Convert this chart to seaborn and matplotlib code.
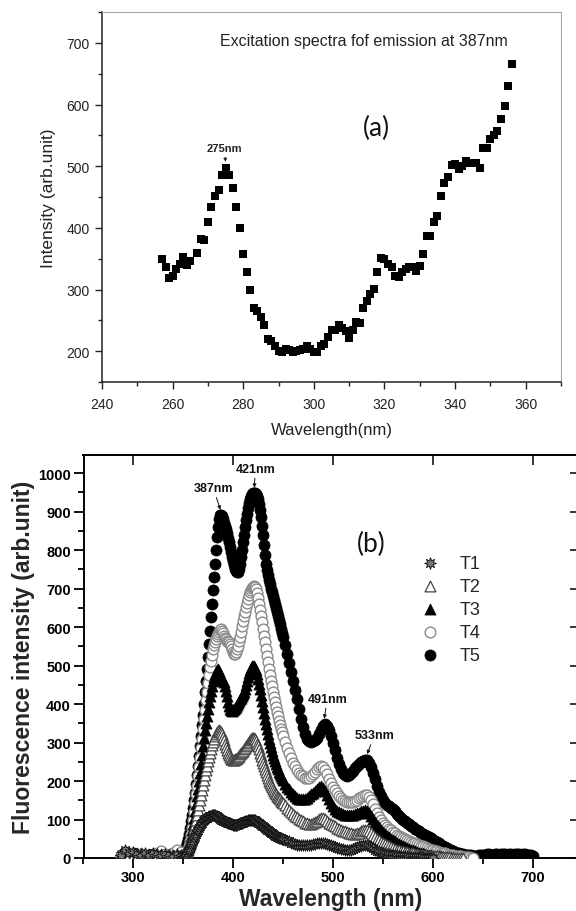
import numpy as np
import pandas as pd
import matplotlib
matplotlib.use("Agg")
import matplotlib.pyplot as plt
import seaborn as sns
from matplotlib.ticker import MultipleLocator

sns.set_theme(style="white")
plt.rcParams['font.family'] = ['Liberation Sans', 'DejaVu Sans']

# ---------------- panel (a): excitation spectrum ----------------
exc_wavelength = [257, 258, 259, 260, 261, 262, 263, 264, 265] + list(range(267, 357))
exc_intensity = [349, 336, 318, 322, 333, 341, 353, 339, 346,
                 359, 382, 381, 410, 433, 452, 462, 485, 497, 485,
                 464, 434, 400, 357, 329, 299, 270, 265, 256, 242,
                 220, 216, 208, 200, 198, 203, 202, 198, 201, 202,
                 203, 209, 204, 198, 198, 208, 212, 223, 235, 235,
                 243, 238, 233, 222, 235, 247, 245, 270, 282, 292,
                 301, 329, 351, 349, 341, 336, 322, 320, 329, 334,
                 336, 336, 330, 338, 357, 387, 387, 409, 420, 452,
                 472, 482, 502, 504, 496, 501, 508, 505, 505, 505,
                 497, 530, 529, 544, 550, 557, 577, 598, 630, 666]

# ---------------- panel (b): emission spectra ----------------
# wavelength grid: 288-348 every 4 nm, 350-449 every 1 nm, from 450 every 2 nm
grid_base = list(range(288, 350, 4))
grid_mid = list(range(350, 450))
grid_tail = list(range(450, 702, 2))

t5_base = [8, 15, 10, 12, 8, 10, 6, 9, 11, 8, 10, 7, 9, 12, 10, 8]
t5_mid = [5, 10, 18, 28, 38, 50, 62, 78, 95, 112,
          130, 150, 170, 192, 215, 240, 265, 290, 318, 345,
          372, 400, 430, 460, 490, 522, 555, 590, 625, 660,
          695, 730, 765, 800, 835, 860, 880, 890, 892, 888,
          880, 870, 862, 855, 845, 832, 820, 808, 795, 782,
          772, 762, 752, 745, 742, 744, 752, 765, 782, 800,
          820, 840, 860, 878, 895, 910, 922, 932, 940, 945,
          948, 948, 947, 945, 940, 932, 920, 905, 885, 862,
          838, 812, 788, 765, 748, 735, 722, 712, 700, 690,
          680, 670, 660, 650, 640, 628, 618, 607, 596, 585]
t5_tail = [575, 553, 530, 507, 484, 460, 436, 412, 388, 362,
           340, 322, 310, 304, 302, 303, 307, 313, 322, 333,
           343, 347, 343, 333, 318, 300, 280, 260, 243, 230,
           220, 215, 213, 215, 220, 226, 233, 240, 245, 250,
           253, 255, 254, 248, 237, 222, 205, 188, 172, 160,
           150, 143, 138, 135, 131, 127, 122, 115, 110, 105,
           100, 96, 92, 88, 84, 80, 76, 73, 70, 66,
           62, 60, 58, 55, 52, 48, 45, 42, 38, 34,
           31, 28, 25, 22, 20, 18, 16, 14, 12, 11,
           10, 9, 8, 8, 7, 6, 6, 6, 7, 8,
           8, 9, 10, 10, 9, 9, 10, 10, 9, 10,
           11, 10, 9, 10, 10, 9, 10, 11, 10, 9,
           10, 10, 9, 8, 8, 6]

t4_base = [5, 8, 12, 9, 6, 10, 8, 5, 9, 14, 18, 10, 8, 12, 20, 15]
t4_mid = [8, 6, 5, 8, 14, 22, 32, 45, 60, 78,
          98, 120, 142, 165, 188, 212, 236, 260, 285, 310,
          335, 360, 385, 410, 432, 455, 475, 495, 512, 528,
          542, 553, 562, 570, 577, 583, 588, 592, 594, 590,
          584, 578, 572, 568, 565, 562, 560, 556, 550, 543,
          536, 531, 530, 534, 542, 552, 563, 575, 588, 602,
          615, 628, 640, 652, 663, 673, 682, 690, 697, 702,
          705, 706, 704, 698, 688, 675, 660, 645, 628, 612,
          595, 578, 560, 542, 525, 508, 492, 476, 460, 446,
          432, 418, 405, 392, 380, 368, 357, 346, 336, 327]
t4_tail = [318, 302, 287, 273, 260, 248, 238, 229, 222, 216,
           212, 209, 208, 209, 212, 217, 223, 230, 236, 238,
           236, 228, 218, 206, 195, 185, 176, 168, 161, 155,
           151, 148, 146, 145, 145, 146, 148, 151, 155, 159,
           162, 164, 163, 158, 150, 140, 128, 117, 107, 98,
           91, 85, 80, 76, 72, 68, 65, 61, 58, 55,
           52, 49, 47, 45, 42, 40, 38, 36, 34, 32,
           30, 28, 26, 24, 22, 20, 18, 17, 15, 14,
           13, 12, 10, 9, 8, 7, 6, 5, 4, 4,
           3, 3, 2, 2, 1, 1]

t3_base = [10, 12, 8, 10, 12, 8, 6, 10, 8, 6, 10, 8, 6, 9, 7, 6]
t3_mid = [3, 5, 8, 12, 18, 25, 34, 45, 58, 72,
          88, 105, 122, 140, 160, 180, 200, 222, 245, 268,
          290, 312, 333, 352, 370, 388, 405, 420, 435, 448,
          460, 470, 478, 484, 488, 490, 486, 478, 470, 465,
          462, 458, 448, 435, 420, 405, 395, 388, 384, 383,
          384, 386, 389, 393, 398, 403, 408, 412, 416, 420,
          425, 432, 440, 450, 460, 470, 480, 488, 494, 498,
          500, 498, 494, 488, 478, 466, 452, 438, 423, 408,
          392, 377, 362, 348, 335, 322, 310, 298, 288, 278,
          268, 260, 252, 244, 237, 230, 224, 218, 212, 207]
t3_tail = [202, 193, 185, 178, 172, 166, 161, 157, 154, 152,
           152, 153, 156, 160, 165, 170, 175, 180, 184, 186,
           183, 175, 164, 153, 143, 135, 128, 123, 119, 116,
           114, 113, 112, 112, 112, 113, 114, 116, 118, 121,
           123, 124, 122, 117, 110, 102, 94, 87, 80, 74,
           68, 63, 58, 54, 50, 46, 43, 40, 37, 34,
           31, 28, 26, 24, 22, 20, 18, 16, 14, 13,
           12, 10, 9, 8, 7, 6, 5, 5, 4, 4,
           3, 3, 2, 2, 2, 1]

t2_base = [6, 10, 8, 5, 8, 12, 9, 6, 8, 10, 7, 5, 9, 6, 8, 5]
t2_mid = [2, 4, 7, 11, 16, 22, 29, 37, 46, 56,
          66, 77, 88, 100, 112, 124, 137, 150, 163, 176,
          189, 202, 215, 228, 240, 252, 263, 274, 284, 293,
          302, 310, 317, 323, 328, 331, 332, 331, 328, 322,
          315, 306, 297, 288, 280, 273, 267, 262, 258, 256,
          255, 255, 256, 258, 260, 263, 266, 269, 272, 275,
          278, 282, 286, 290, 294, 298, 302, 306, 309, 311,
          312, 311, 308, 303, 297, 290, 282, 273, 264, 255,
          246, 238, 230, 223, 216, 208, 201, 195, 189, 184,
          179, 174, 170, 166, 162, 158, 155, 152, 149, 146]
t2_tail = [143, 137, 131, 125, 120, 115, 110, 106, 102, 98,
           95, 92, 90, 89, 89, 90, 93, 97, 101, 104,
           105, 102, 97, 92, 88, 85, 82, 79, 76, 73,
           71, 69, 67, 65, 64, 63, 63, 64, 66, 69,
           72, 74, 73, 70, 65, 60, 55, 50, 46, 42,
           39, 36, 33, 30, 28, 26, 24, 22, 20, 19,
           17, 16, 15, 14, 13, 12, 11, 10, 9, 8,
           8, 7, 6, 6, 5, 5, 4, 4, 3, 3,
           3, 2, 2, 2, 1, 1, 1, 1, 0, 0,
           0]

t1_base = [8, 20, 12, 15, 10, 8, 14, 9, 12, 10, 7, 11, 9, 6, 10, 8]
t1_mid = [3, 4, 6, 9, 13, 17, 22, 27, 33, 39,
          45, 51, 57, 63, 69, 74, 79, 84, 88, 92,
          95, 98, 101, 103, 105, 107, 108, 109, 110, 111,
          112, 112, 111, 110, 108, 106, 104, 102, 100, 98,
          97, 96, 95, 94, 93, 92, 91, 90, 89, 88,
          87, 86, 86, 86, 87, 88, 89, 90, 91, 92,
          93, 94, 95, 96, 97, 98, 99, 100, 100, 100,
          100, 99, 98, 96, 94, 92, 90, 88, 86, 84,
          82, 80, 78, 76, 74, 72, 70, 68, 66, 64,
          62, 60, 58, 56, 55, 54, 53, 52, 51, 50]
t1_tail = [49, 47, 45, 43, 40, 38, 36, 35, 34, 34,
           33, 33, 33, 34, 35, 36, 37, 38, 39, 40,
           40, 39, 37, 35, 33, 31, 29, 27, 25, 24,
           23, 22, 21, 21, 22, 24, 26, 28, 30, 32,
           33, 34, 33, 31, 28, 25, 22, 19, 17, 15,
           13, 12, 11, 10, 9, 8, 7, 7, 6, 6,
           5, 5, 4, 4, 3, 3, 3, 2, 2, 2,
           2, 1, 1, 1, 1, 1]

series_names = ["T1", "T2", "T3", "T4", "T5"]
peak_labels = ["387nm", "421nm", "491nm", "533nm"]


def assemble(base, mid, tail):
    x = grid_base[:len(base)] + grid_mid[:len(mid)] + grid_tail[:len(tail)]
    y = base + mid + tail
    return pd.DataFrame({"wavelength": x, "intensity": y})


data_b = {
    "T1": assemble(t1_base, t1_mid, t1_tail),
    "T2": assemble(t2_base, t2_mid, t2_tail),
    "T3": assemble(t3_base, t3_mid, t3_tail),
    "T4": assemble(t4_base, t4_mid, t4_tail),
    "T5": assemble(t5_base, t5_mid, t5_tail),
}

W, H = 576, 912
fig = plt.figure(figsize=(W / 100, H / 100), dpi=100)
fig.patch.set_facecolor("white")

# ================= panel (a) =================
axa = fig.add_axes([102 / W, 1 - 383 / H, 459 / W, 370 / H])
df_a = pd.DataFrame({"wavelength": exc_wavelength, "intensity": exc_intensity})
sns.scatterplot(data=df_a, x="wavelength", y="intensity", marker="s", s=30,
                color="black", edgecolor="black", linewidth=0, ax=axa, legend=False)
axa.set_xlim(240, 370)
axa.set_ylim(150, 750)
axa.xaxis.set_major_locator(MultipleLocator(20))
axa.xaxis.set_minor_locator(MultipleLocator(10))
axa.yaxis.set_minor_locator(MultipleLocator(50))
axa.set_yticks([200, 300, 400, 500, 600, 700])
axa.tick_params(axis="both", which="major", direction="out", length=5, width=1,
                colors="#222222", labelsize=10, top=False, right=False,
                bottom=True, left=True, pad=4)
axa.tick_params(axis="x", which="major", pad=6)
axa.tick_params(axis="both", which="minor", direction="out", length=3, width=1,
                colors="#222222", top=False, right=False, bottom=True, left=True)
for side in ["left", "bottom"]:
    axa.spines[side].set_color("#222222")
    axa.spines[side].set_linewidth(1.1)
for side in ["top", "right"]:
    axa.spines[side].set_color("#aaaaaa")
    axa.spines[side].set_linewidth(0.8)
axa.set_xlabel("Wavelength(nm)", fontsize=12, color="#222222", labelpad=8)
axa.set_ylabel("Intensity (arb.unit)", fontsize=12.5, color="#222222", labelpad=7)
axa.text(0.885, 0.922, "Excitation spectra fof emission at 387nm",
         transform=axa.transAxes, ha="right", va="center", fontsize=11.5, color="#222222")
axa.text(317.6, 563, "(a)", ha="center", va="center", fontsize=19, color="#111111",
         family=["Lato", "DejaVu Sans"])
axa.annotate("275nm", xy=(275, 507), xytext=(274.6, 522),
             ha="center", va="bottom", fontsize=8, fontweight="bold", color="#222222",
             arrowprops=dict(arrowstyle="-|>", lw=0.6, color="#222222",
                             mutation_scale=5, shrinkA=1, shrinkB=0))
axa.grid(False)

# ================= panel (b) =================
axb = fig.add_axes([83.5 / W, 1 - 859 / H, 494.5 / W, 403 / H])
styles = {
    "T5": dict(marker="o", s=64, color="black", edgecolor="black", linewidth=0.5, zorder=2),
    "T4": dict(marker="o", s=60, color="white", edgecolor="#8a8a8a", linewidth=1.0, zorder=3),
    "T3": dict(marker="^", s=64, color="black", edgecolor="black", linewidth=0.5, zorder=4),
    "T2": dict(marker="^", s=60, color="white", edgecolor="#444444", linewidth=0.9, zorder=5),
    "T1": dict(marker=(8, 1, 0), s=70, color="#777777", edgecolor="#111111", linewidth=0.6, zorder=6),
}
for name in ["T5", "T4", "T3", "T2", "T1"]:
    st = dict(styles[name])
    z = st.pop("zorder")
    sns.scatterplot(data=data_b[name], x="wavelength", y="intensity", ax=axb,
                    label=name, zorder=z, **st)

axb.set_xlim(250, 745)
axb.set_ylim(0, 1047)
axb.set_xticks([300, 400, 500, 600, 700])
axb.xaxis.set_minor_locator(MultipleLocator(50))
axb.set_yticks(list(range(0, 1001, 100)))
axb.yaxis.set_minor_locator(MultipleLocator(50))
axb.tick_params(axis="both", which="major", direction="out", length=7, width=1.3,
                colors="black", labelsize=10.5, bottom=True, left=True, top=False,
                right=False, pad=2)
axb.tick_params(axis="both", which="minor", direction="out", length=4, width=1.3,
                colors="black", bottom=True, left=True, top=False, right=False)
for lab in axb.get_xticklabels() + axb.get_yticklabels():
    lab.set_fontweight("bold")
for side in ["left", "bottom", "top", "right"]:
    axb.spines[side].set_color("black")
    axb.spines[side].set_linewidth(1.4)

# inward ticks on top and right
axt = axb.secondary_xaxis("top")
axt.set_xticks([300, 400, 500, 600, 700])
axt.tick_params(direction="in", length=7, width=1.3, labeltop=False)
axt.set_xticklabels([])
axr = axb.secondary_yaxis("right")
axr.set_yticks(list(range(0, 1001, 100)))
axr.tick_params(direction="in", length=6, width=1.3, labelright=False)
axr.set_yticklabels([])

axb.set_xlabel("Wavelength (nm)", fontsize=16.5, fontweight="bold", labelpad=2)
axb.set_ylabel("Fluorescence intensity (arb.unit)", fontsize=16.5, fontweight="bold", labelpad=2)
axb.grid(False)

handles, labels = axb.get_legend_handles_labels()
order = [labels.index(n) for n in series_names]
axb.legend([handles[i] for i in order], [labels[i] for i in order],
           loc="upper left", bbox_to_anchor=(0.683, 0.752), frameon=False,
           fontsize=13, handlelength=1.0, handletextpad=1.1, labelspacing=0.33,
           borderpad=0, borderaxespad=0)

axb.text(538, 816, "(b)", ha="center", va="center", fontsize=19, color="#111111",
         family=["Lato", "DejaVu Sans"])

annots = [(peak_labels[0], 387, 905, 380, 945),
          (peak_labels[1], 421, 962, 422, 995),
          (peak_labels[2], 491, 362, 494, 398),
          (peak_labels[3], 534, 270, 541, 303)]
for text, xa, ya, xt, yt in annots:
    axb.annotate(text, xy=(xa, ya), xytext=(xt, yt), ha="center", va="bottom",
                 fontsize=9, fontweight="bold", color="#111111",
                 arrowprops=dict(arrowstyle="-|>", lw=0.7, color="#111111",
                                 mutation_scale=5, shrinkA=0, shrinkB=0))

fig.savefig("out.png", dpi=100, facecolor="white")
